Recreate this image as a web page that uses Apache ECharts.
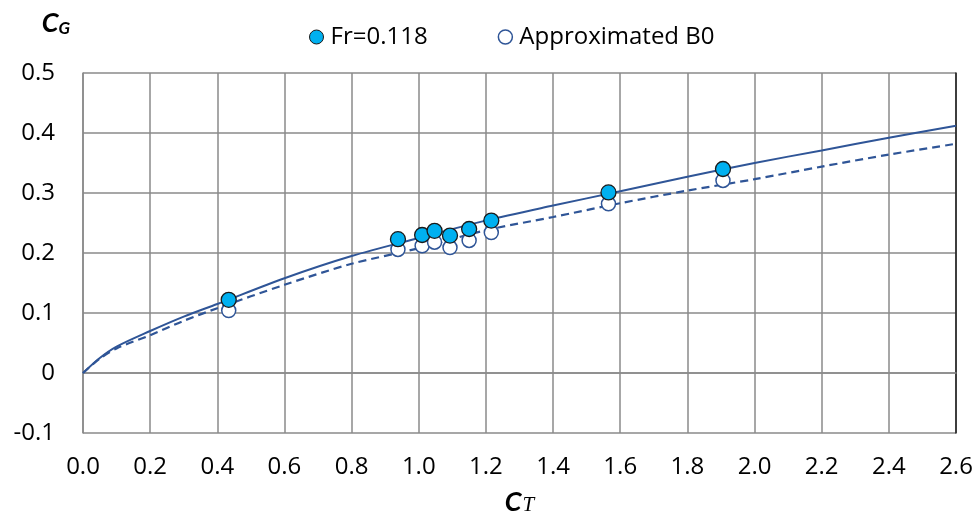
<!DOCTYPE html>
<html>
<head>
<meta charset="utf-8">
<script src="https://cdn.jsdelivr.net/npm/echarts@6/dist/echarts.min.js"></script>
<style>
  html, body { margin: 0; padding: 0; background: #fff; }
  #chart { width: 976px; height: 517px; }
</style>
</head>
<body>
<div id="chart"></div>
<script>
// Measured points at Fr = 0.118
const ctMeasured = [0.434, 0.938, 1.010, 1.047, 1.093, 1.150, 1.216, 1.565, 1.906];
const cgMeasured = [0.122, 0.223, 0.230, 0.237, 0.229, 0.240, 0.254, 0.301, 0.340];
// Approximated B0 at the same thrust coefficients
const cgApprox   = [0.104, 0.206, 0.212, 0.218, 0.209, 0.221, 0.234, 0.282, 0.321];

// Fitted curves sampled along C_T
const ctCurve    = [0, 0.05, 0.1, 0.2, 0.3, 0.4, 0.6, 0.8, 1.0, 1.2, 1.4, 1.6, 1.8, 2.0, 2.2, 2.4, 2.6];
const cgFitSolid = [0, 0.025, 0.044, 0.070, 0.094, 0.115, 0.158, 0.195, 0.225, 0.254, 0.279, 0.303, 0.327, 0.350, 0.371, 0.392, 0.412];
const cgFitDash  = [0, 0.024, 0.041, 0.063, 0.087, 0.108, 0.147, 0.182, 0.208, 0.238, 0.260, 0.283, 0.304, 0.323, 0.344, 0.364, 0.382];

const seriesNames = ['Fr=0.118', 'Approximated B0'];

const FONT = 'Open Sans';
const GRID_GREY = '#8a8a8a';
const LINE_BLUE = '#2f5597';

const zip = (xs, ys) => xs.map((x, i) => [x, ys[i]]);

const chart = echarts.init(document.getElementById('chart'), null, { renderer: 'canvas' });

chart.setOption({
  animation: false,
  backgroundColor: '#ffffff',
  textStyle: { fontFamily: FONT },
  grid: { left: 83, right: 20, top: 73, bottom: 84, containLabel: false, outerBoundsMode: 'none' },
  legend: {
    top: 20,
    left: 304,
    itemGap: 70,
    itemWidth: 14,
    itemHeight: 14,
    textStyle: { fontFamily: FONT, fontSize: 24, color: '#000', padding: [0, 0, 0, 2] },
    data: [
      { name: seriesNames[0], icon: 'circle', itemStyle: { color: '#00b0f0', borderColor: '#1a1a1a', borderWidth: 1 } },
      { name: seriesNames[1], icon: 'circle', itemStyle: { color: '#ffffff', borderColor: LINE_BLUE, borderWidth: 1.5 } }
    ]
  },
  xAxis: [{
    type: 'value',
    min: 0,
    max: 2.6,
    interval: 0.2,
    name: '{c|C}{t|T}',
    nameLocation: 'middle',
    nameGap: 55,
    nameTextStyle: {
      rich: {
        c: { fontFamily: 'Lato', fontSize: 27, fontWeight: 'bold', fontStyle: 'italic', color: '#000', lineHeight: 28 },
        t: { fontFamily: 'Liberation Serif', fontSize: 21, fontStyle: 'italic', color: '#000', verticalAlign: 'bottom', lineHeight: 22, padding: [10, 0, 0, 1] }
      }
    },
    axisLine: { show: true, lineStyle: { color: GRID_GREY, width: 1.5 } },
    axisTick: { show: false },
    axisLabel: {
      margin: 22,
      fontFamily: FONT, fontSize: 24, color: '#000',
      formatter: v => v.toFixed(1)
    },
    splitLine: { show: true, lineStyle: { color: GRID_GREY, width: 1.5 } }
  }],
  yAxis: [{
    type: 'value',
    min: -0.1,
    max: 0.5,
    interval: 0.1,
    name: '{c|C}{s|G}',
    nameLocation: 'end',
    nameGap: 36,
    nameTextStyle: {
      align: 'right',
      padding: [0, 13, 0, 0],
      rich: {
        c: { fontFamily: 'Lato', fontSize: 27, fontWeight: 'bold', fontStyle: 'italic', color: '#000', lineHeight: 28 },
        s: { fontFamily: 'Lato', fontSize: 17, fontWeight: 'bold', fontStyle: 'italic', color: '#000', verticalAlign: 'bottom', lineHeight: 18, padding: [10, 0, 0, 0] }
      }
    },
    axisLine: { show: true, lineStyle: { color: GRID_GREY, width: 1.5 } },
    axisTick: { show: false },
    axisLabel: {
      margin: 28,
      fontFamily: FONT, fontSize: 24, color: '#000',
      formatter: v => (Math.abs(v) < 1e-9 ? '0' : String(Math.round(v * 10) / 10))
    },
    splitLine: { show: true, lineStyle: { color: GRID_GREY, width: 1.5 } }
  }, {
    // right edge of the plot area
    type: 'value',
    position: 'right',
    min: -0.1,
    max: 0.5,
    interval: 0.1,
    axisLine: { show: true, lineStyle: { color: '#1a1a1a', width: 1.5 } },
    axisTick: { show: false },
    axisLabel: { show: false },
    splitLine: { show: false }
  }],
  series: [
    {
      name: 'fit',
      type: 'line',
      data: zip(ctCurve, cgFitSolid),
      showSymbol: false,
      symbol: 'none',
      smooth: 0.3,
      lineStyle: { color: LINE_BLUE, width: 2, type: 'solid' },
      silent: true,
      z: 2
    },
    {
      name: 'fitB0',
      type: 'line',
      data: zip(ctCurve, cgFitDash),
      showSymbol: false,
      symbol: 'none',
      smooth: 0.3,
      lineStyle: { color: LINE_BLUE, width: 2.2, type: [8, 5] },
      silent: true,
      z: 2
    },
    {
      name: seriesNames[1],
      type: 'scatter',
      data: zip(ctMeasured, cgApprox),
      symbol: 'circle',
      symbolSize: 14,
      itemStyle: { color: '#ffffff', borderColor: LINE_BLUE, borderWidth: 1.5, opacity: 1 },
      z: 3
    },
    {
      name: seriesNames[0],
      type: 'scatter',
      data: zip(ctMeasured, cgMeasured),
      symbol: 'circle',
      symbolSize: 15,
      itemStyle: { color: '#00b0f0', borderColor: '#1a1a1a', borderWidth: 1.3, opacity: 1 },
      z: 4
    }
  ]
});
</script>
</body>
</html>
